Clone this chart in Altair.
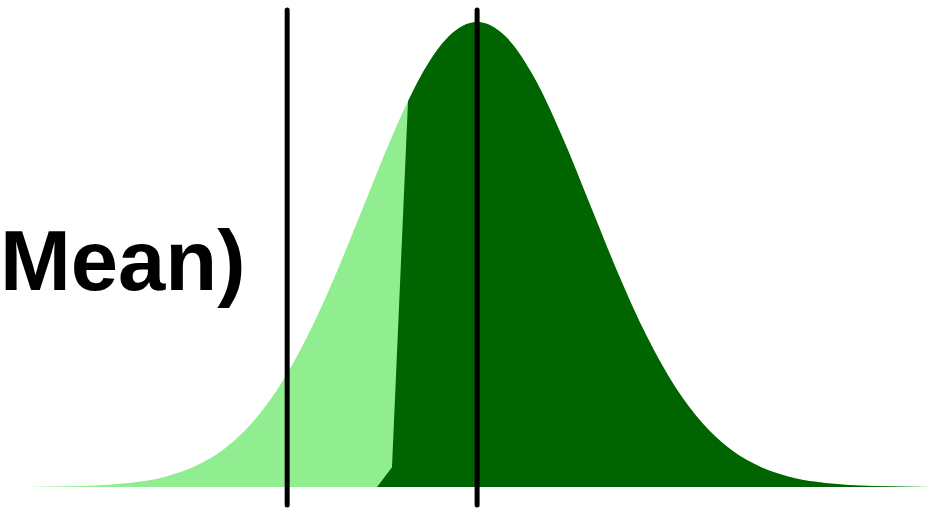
import altair as alt
import pandas as pd

# Standard normal density, sampled every quarter standard deviation
z_grid = [-4.25, -4.0, -3.75, -3.5, -3.25, -3.0, -2.75, -2.5, -2.25, -2.0,
          -1.75, -1.5, -1.25, -1.0, -0.75, -0.5, -0.25, 0.0, 0.25, 0.5,
          0.75, 1.0, 1.25, 1.5, 1.75, 2.0, 2.25, 2.5, 2.75, 3.0,
          3.25, 3.5, 3.75, 4.0, 4.25]
density = [0.00005, 0.0001, 0.0004, 0.0009, 0.0020, 0.0044, 0.0091, 0.0175, 0.0317, 0.0540,
           0.0863, 0.1295, 0.1826, 0.2420, 0.3011, 0.3521, 0.3867, 0.3989, 0.3867, 0.3521,
           0.3011, 0.2420, 0.1826, 0.1295, 0.0863, 0.0540, 0.0317, 0.0175, 0.0091, 0.0044,
           0.0020, 0.0009, 0.0004, 0.0001, 0.00005]

# Left edge of the shaded (dark) region
edge_z = [-0.885, -0.753, -0.611]
edge_density = [0.0, 0.017, 0.331]

# Reference lines
line_z = [-1.68, 0.0]

label = "Mean)"

W, H = 935, 509
x_scale = alt.Scale(domain=[-4.22, 4.05], nice=False, zero=False)
y_scale = alt.Scale(domain=[-0.01887, 0.41776], nice=False, zero=False)

curve = pd.DataFrame({"z": z_grid, "d": density})
edge = pd.DataFrame({"z": edge_z, "d": edge_density})
dark_curve = pd.concat(
    [pd.DataFrame({"z": [edge_z[-1]], "d": [edge_density[-1]]}),
     curve[curve["z"] > edge_z[-1]]],
    ignore_index=True,
)
lines = pd.DataFrame({"z": line_z})

x_enc = alt.X("z:Q", scale=x_scale, axis=None)
y_enc = alt.Y("d:Q", scale=y_scale, axis=None)
y0 = alt.Y2(datum=0)

light = alt.Chart(curve).mark_area(
    color="#90EE90", interpolate="monotone", clip=True
).encode(x=x_enc, y=y_enc, y2=y0)

dark = alt.Chart(dark_curve).mark_area(
    color="#006400", interpolate="monotone", clip=True
).encode(x=x_enc, y=y_enc, y2=y0)

dark_edge = alt.Chart(edge).mark_area(
    color="#006400", interpolate="linear", clip=True
).encode(x=x_enc, y=y_enc, y2=y0)

rules = alt.Chart(lines).mark_rule(
    color="black", strokeWidth=5, strokeCap="round"
).encode(x=x_enc, y=alt.value(10), y2=alt.value(505))

text = alt.Chart(pd.DataFrame({"t": [label]})).mark_text(
    font="Liberation Sans", fontWeight="bold", fontSize=85,
    align="left", baseline="alphabetic", color="black"
).encode(text="t:N", x=alt.value(0), y=alt.value(290))

chart = alt.layer(light, dark, dark_edge, rules, text).properties(
    width=W, height=H, padding=0, autosize=alt.AutoSizeParams(type="none")
).configure_view(stroke=None)

chart.save("out.html", embed_options={"renderer": "svg", "actions": False})
